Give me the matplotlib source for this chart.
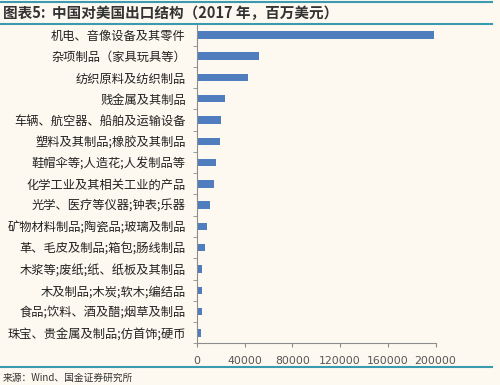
import matplotlib
matplotlib.use('Agg')
import matplotlib.pyplot as plt
import numpy as np

plt.rcParams['font.family'] = ['Noto Sans CJK SC', 'DejaVu Sans']

categories = ['机电、音像设备及其零件', '杂项制品（家具玩具等）', '纺织原料及纺织制品',
              '贱金属及其制品', '车辆、航空器、船舶及运输设备', '塑料及其制品;橡胶及其制品',
              '鞋帽伞等;人造花;人发制品等', '化学工业及其相关工业的产品', '光学、医疗等仪器;钟表;乐器',
              '矿物材料制品;陶瓷品;玻璃及制品', '革、毛皮及制品;箱包;肠线制品',
              '木浆等;废纸;纸、纸板及其制品', '木及制品;木炭;软木;编结品',
              '食品;饮料、酒及醋;烟草及制品', '珠宝、贵金属及制品;仿首饰;硬币']
values = [198500, 52000, 42500, 23300, 19900, 19000, 16200, 14000, 10600,
          8100, 7000, 4200, 4000, 3900, 3700]
xticks = [0, 40000, 80000, 120000, 160000, 200000]

bg = '#fef9f0'
bar_color = '#4f7dbd'
axis_color = '#8c8c8c'
line_color = '#3a9bb0'

fig = plt.figure(figsize=(5, 3.85), dpi=100, facecolor=bg)
ax = fig.add_axes([0.394, 0.108, 0.477, 0.829])
ax.set_facecolor(bg)

y = np.arange(len(categories))
ax.barh(y, values, height=0.35, color=bar_color)
ax.set_ylim(len(categories) - 0.5, -0.5)
ax.set_xlim(0, 200000)

ax.set_yticks(y)
ax.set_yticklabels(categories, fontsize=8.8, color='#222222')
ax.set_yticks(np.arange(len(categories) + 1) - 0.5, minor=True)
ax.tick_params(axis='y', which='major', length=0, pad=8)
ax.tick_params(axis='y', which='minor', length=3, color=axis_color)

ax.set_xticks(xticks)
ax.set_xticklabels([str(v) for v in xticks], fontsize=7.8, color='#555555', family='DejaVu Sans')
ax.tick_params(axis='x', length=3, color=axis_color, pad=6)

for s in ['top', 'right']:
    ax.spines[s].set_visible(False)
for s in ['left', 'bottom']:
    ax.spines[s].set_color(axis_color)
    ax.spines[s].set_linewidth(0.8)

# header and footer rules
fig.add_artist(plt.Line2D([0.0, 0.984], [0.994, 0.994], color=line_color, lw=1.5))
fig.add_artist(plt.Line2D([0.0, 0.984], [0.938, 0.938], color=line_color, lw=1.5))
fig.add_artist(plt.Line2D([0.0, 0.984], [0.047, 0.047], color=line_color, lw=1.5))

fig.text(0.006, 0.966, '图表5:  中国对美国出口结构（2017 年，百万美元）', fontsize=10.5,
         fontweight='bold', color='#333333', va='center', ha='left')
fig.text(0.006, 0.018, '来源：Wind、国金证券研究所', fontsize=7, color='#333333',
         va='center', ha='left')

fig.savefig('out.png', dpi=100, facecolor=bg)
